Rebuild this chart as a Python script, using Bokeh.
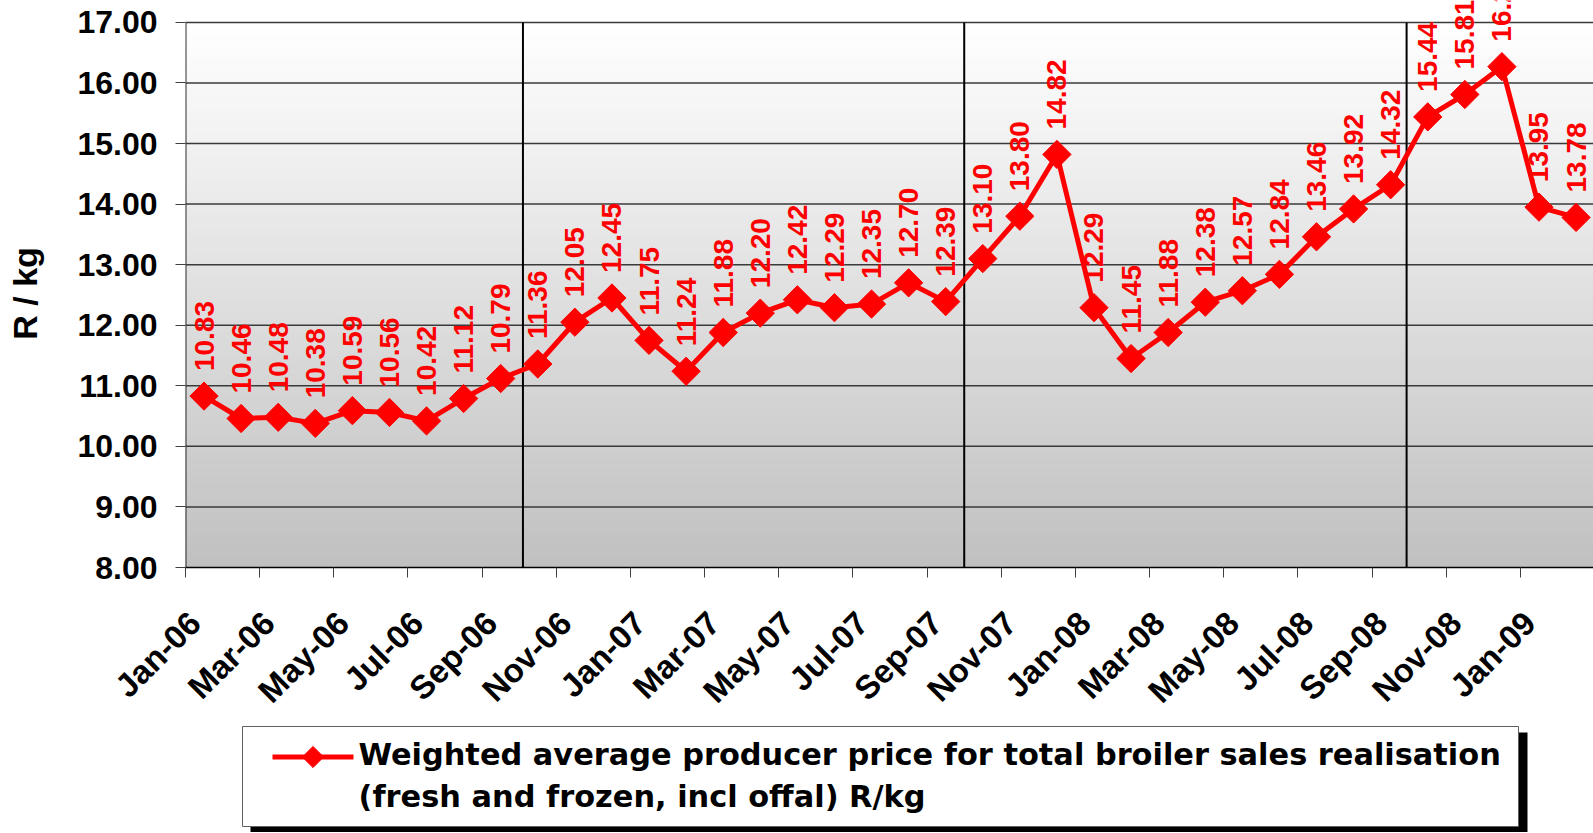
import numpy as np
from bokeh.plotting import figure
from bokeh.models import (ColumnDataSource, LabelSet, FixedTicker, Range1d,
                          CustomJSTickFormatter, NumeralTickFormatter)
from bokeh.layouts import column
from bokeh.embed import file_html
from bokeh.resources import INLINE
from bokeh.core.properties import value

# ---------------- data ----------------
months = ["Jan-06", "Feb-06", "Mar-06", "Apr-06", "May-06", "Jun-06", "Jul-06", "Aug-06",
          "Sep-06", "Oct-06", "Nov-06", "Dec-06",
          "Jan-07", "Feb-07", "Mar-07", "Apr-07", "May-07", "Jun-07", "Jul-07", "Aug-07",
          "Sep-07", "Oct-07", "Nov-07", "Dec-07",
          "Jan-08", "Feb-08", "Mar-08", "Apr-08", "May-08", "Jun-08", "Jul-08", "Aug-08",
          "Sep-08", "Oct-08", "Nov-08", "Dec-08",
          "Jan-09", "Feb-09"]

prices = [10.83, 10.46, 10.48, 10.38, 10.59, 10.56, 10.42, 10.79, 11.12, 11.36,
          12.05, 12.45, 11.75, 11.24, 11.88, 12.20, 12.42, 12.29, 12.35, 12.70,
          12.39, 13.10, 13.80, 14.82, 12.29, 11.45, 11.88, 12.38, 12.57, 12.84,
          13.46, 13.92, 14.32, 15.44, 15.81, 16.27, 13.95, 13.78]

# data labels as printed in the picture (left to right)
point_labels = ["10.83", "10.46", "10.48", "10.38", "10.59", "10.56", "10.42", "11.12",
                "10.79", "11.36", "12.05", "12.45", "11.75", "11.24", "11.88", "12.20",
                "12.42", "12.29", "12.35", "12.70", "12.39", "13.10", "13.80", "14.82",
                "12.29", "11.45", "11.88", "12.38", "12.57", "12.84", "13.46", "13.92",
                "14.32", "15.44", "15.81", "16.27", "13.95", "13.78"]

year_marks = [9.1, 21.0, 32.93]          # vertical separator lines (in month units)
y_ticks = [8, 9, 10, 11, 12, 13, 14, 15, 16, 17]
y_title = "R / kg"
legend_lines = ["Weighted average producer price for total broiler sales realisation",
                "(fresh and frozen, incl offal) R/kg"]

RED = "#ff0000"
FONT = "Liberation Sans"
Y0, Y1 = 8, 17

# ---------------- main chart ----------------
n = len(months)
xs = [i + 0.5 for i in range(n)]
XMAX = 37.97
PH = 725

p = figure(width=1593, height=PH, x_range=Range1d(0, XMAX), y_range=Range1d(Y0, Y1 + 0.362),
           output_backend="svg", toolbar_location=None,
           min_border_left=185, min_border_right=0, min_border_top=0, min_border_bottom=156)
p.outline_line_color = None
p.xgrid.visible = False
p.ygrid.visible = False
p.background_fill_color = "white"

# vertical gradient of the plot area (white at top -> grey at bottom)
nb = 90
edges = np.linspace(Y0, Y1, nb + 1)
cols = []
for k in range(nb):
    t = (edges[k] + edges[k + 1]) / 2
    g = int(round(192 + 63 * (t - Y0) / (Y1 - Y0)))
    cols.append("#%02x%02x%02x" % (g, g, g))
p.quad(left=0, right=XMAX, bottom=edges[:-1], top=edges[1:], fill_color=cols,
       line_color=cols, line_width=1)

# horizontal grid lines
p.segment(x0=0, x1=XMAX, y0=y_ticks[1:], y1=y_ticks[1:], line_color="#3a3a3a", line_width=1.5)
# left edge of plot area
p.segment(x0=[0], x1=[0], y0=[Y0], y1=[Y1], line_color="#303030", line_width=2)
# yearly separators
p.segment(x0=year_marks, x1=year_marks, y0=Y0, y1=Y1, line_color="black", line_width=2)

src = ColumnDataSource(dict(x=xs, y=prices, label=point_labels))
p.line("x", "y", source=src, line_color=RED, line_width=5)
p.scatter("x", "y", source=src, marker="square", size=20, angle=np.pi / 4,
          fill_color=RED, line_color=RED)

labels = LabelSet(x="x", y="y", text="label", source=src, angle=np.pi / 2,
                  y_offset=25, text_align="left", text_baseline="middle",
                  text_font=value(FONT), text_font_style="bold",
                  text_font_size="28px", text_color=RED)
p.add_layout(labels)

# y axis
yax = p.yaxis[0]
yax.ticker = FixedTicker(ticks=y_ticks)
yax.formatter = NumeralTickFormatter(format="0.00")
yax.major_label_text_font = FONT
yax.major_label_text_font_style = "bold"
yax.major_label_text_font_size = "32px"
yax.major_label_text_color = "black"
yax.major_tick_out = 10
yax.major_tick_in = 0
yax.major_tick_line_color = "#404040"
yax.minor_tick_line_color = None
yax.axis_line_color = None
yax.major_label_standoff = 18
yax.axis_label = y_title + "\u00a0\u00a0"
yax.axis_label_text_font = FONT
yax.axis_label_text_font_style = "bold"
yax.axis_label_text_font_size = "34px"
yax.axis_label_text_color = "black"
yax.axis_label_standoff = 30

# x axis: labels every second month, tick marks at category boundaries
xax = p.xaxis[0]
xax.ticker = FixedTicker(ticks=[i + 0.25 for i in range(0, n, 2)],
                         minor_ticks=[i for i in range(0, n + 1, 2)])
xax.formatter = CustomJSTickFormatter(args=dict(labels=months),
                                      code="const i = Math.floor(tick); return labels[i] || '';")
xax.major_label_orientation = np.pi / 4
xax.major_label_text_font = FONT
xax.major_label_text_font_style = "bold"
xax.major_label_text_font_size = "33px"
xax.major_label_text_color = "black"
xax.major_tick_line_color = None
xax.major_tick_out = 0
xax.major_tick_in = 0
xax.minor_tick_out = 10
xax.minor_tick_in = 0
xax.minor_tick_line_color = "#404040"
xax.axis_line_color = "black"
xax.axis_line_width = 1.5
xax.major_label_standoff = 40

# ---------------- legend panel (coordinates = page pixels, y measured up from bottom) ----------------
TOTAL = 832
QH = TOTAL - PH
q = figure(width=1593, height=QH, x_range=Range1d(185, 1593), y_range=Range1d(0, QH),
           output_backend="svg", toolbar_location=None,
           min_border_left=185, min_border_right=0, min_border_top=0, min_border_bottom=0,
           x_axis_location=None, y_axis_location=None)
q.outline_line_color = None
q.xgrid.visible = False
q.ygrid.visible = False
q.quad(left=[250], right=[1527], top=[TOTAL - 732], bottom=[-3], fill_color="black", line_color=None)
q.quad(left=[242], right=[1518], top=[TOTAL - 726], bottom=[TOTAL - 826], fill_color="white",
       line_color="#606060", line_width=1)
q.line(x=[272, 353], y=[TOTAL - 756.5] * 2, line_color=RED, line_width=5)
q.scatter(x=[312.5], y=[TOTAL - 756.5], marker="square", size=15, angle=np.pi / 4,
          fill_color=RED, line_color=RED)
q.text(x=[358, 358], y=[TOTAL - 754, TOTAL - 796], text=legend_lines,
       text_font=value("DejaVu Sans"), text_font_style="bold", text_font_size="30.4px",
       text_color="black", text_baseline="alphabetic", text_align="left")

layout = column(p, q, spacing=0)
open("out.html", "w").write(file_html(layout, INLINE))
